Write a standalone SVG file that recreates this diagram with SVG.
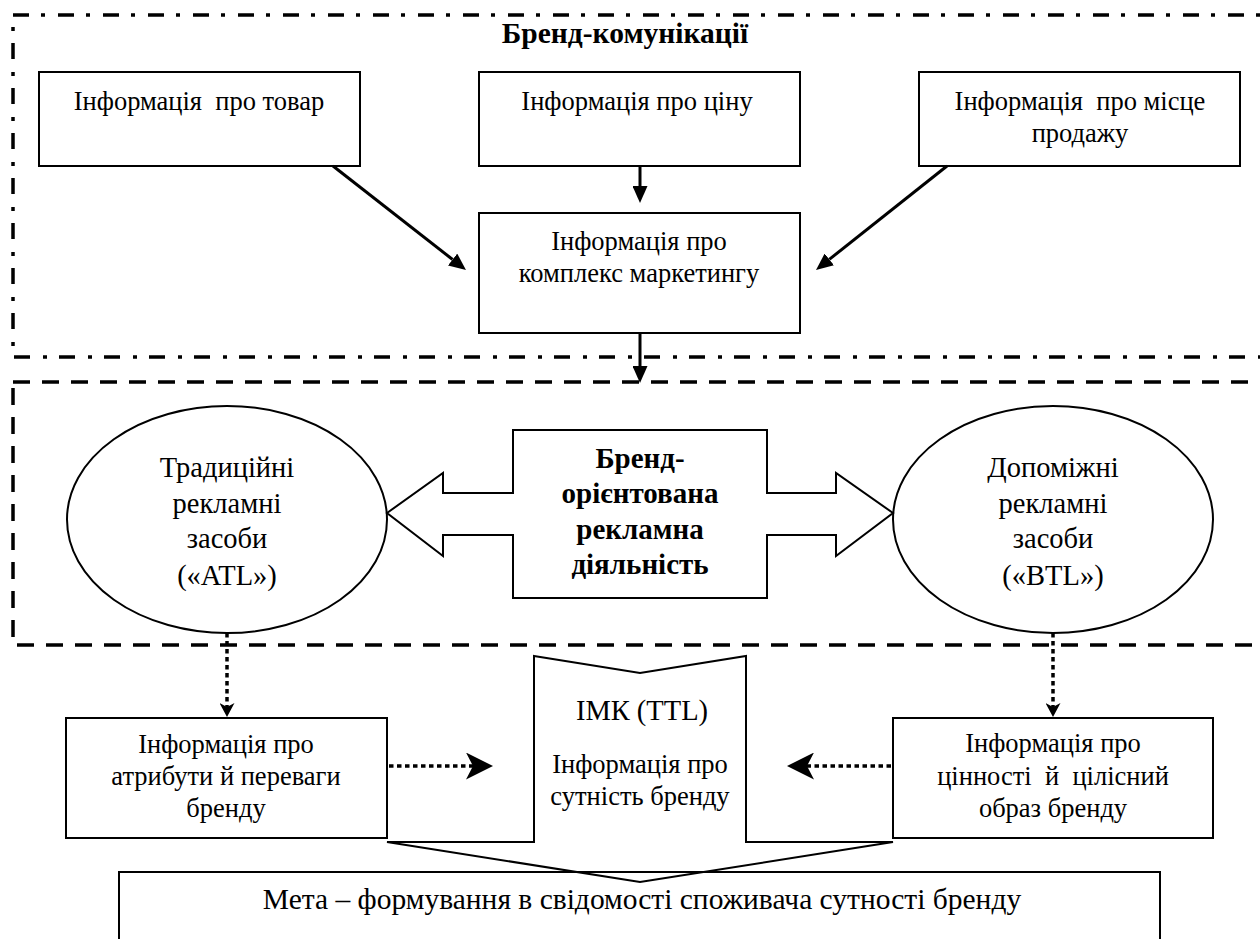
<svg xmlns="http://www.w3.org/2000/svg" width="1260" height="939" viewBox="0 0 1260 939">
<style>
  text { font-family: "Liberation Serif", "Times New Roman", "DejaVu Serif", serif; font-size: 26.5px; fill: #000; text-anchor: middle; white-space: pre; }
  .b { font-weight: bold; }
  .big { font-size: 28.5px; }
  .bb { font-size: 29px; }
  .xl { font-size: 29.5px; }
  .box { fill: #fff; stroke: #000; stroke-width: 2; }
  .open { fill: none; stroke: #000; stroke-width: 2; }
  .dashdot { fill: none; stroke: #000; stroke-width: 3.5; stroke-dasharray: 16 12 4 13; }
  .dashed { fill: none; stroke: #000; stroke-width: 3.5; stroke-dasharray: 17 12; }
  .solid { stroke: #000; stroke-width: 3; fill: none; }
  .dotted { stroke: #000; stroke-width: 3.5; stroke-dasharray: 4.5 3.5; fill: none; }
</style>
<defs>
  <marker id="tri" markerUnits="userSpaceOnUse" markerWidth="17" markerHeight="15" refX="0" refY="7.5" orient="auto">
    <path d="M0,0 L17,7.5 L0,15 z" fill="#000"/>
  </marker>
  <marker id="stl" markerUnits="userSpaceOnUse" markerWidth="27" markerHeight="27" refX="7" refY="13.5" orient="auto">
    <path d="M0,0 L27,13.5 L0,27 L7,13.5 z" fill="#000"/>
  </marker>
  <marker id="stls" markerUnits="userSpaceOnUse" markerWidth="14" markerHeight="15" refX="4" refY="7.5" orient="auto">
    <path d="M0,0 L14,7.5 L0,15 L4,7.5 z" fill="#000"/>
  </marker>
</defs>

<g id="frames">
  <rect id="brand-communications-frame" class="dashdot" x="13" y="15" width="1300" height="342"/>
  <rect id="advertising-frame" class="dashed" x="13" y="382" width="1300" height="263"/>
</g>

<g id="title">
  <text class="b xl" x="625" y="43">Бренд-комунікації</text>
</g>

<g id="node-product">
  <rect class="box" x="39" y="72" width="321" height="94"/>
  <text x="199" y="110">Інформація  про товар</text>
</g>
<g id="node-price">
  <rect class="box" x="479" y="72" width="321" height="94"/>
  <text x="637" y="110">Інформація про ціну</text>
</g>
<g id="node-place">
  <rect class="box" x="919" y="72" width="321" height="94"/>
  <text x="1080" y="110">Інформація  про місце</text>
  <text x="1080" y="142">продажу</text>
</g>
<g id="node-mix">
  <rect class="box" x="479" y="213" width="321" height="120"/>
  <text x="639" y="250">Інформація про</text>
  <text x="639" y="282">комплекс маркетингу</text>
</g>

<g id="node-atl">
  <ellipse class="box" cx="227" cy="519.5" rx="160" ry="113.5"/>
  <text class="big" x="227" y="477">Традиційні</text>
  <text class="big" x="227" y="513">рекламні</text>
  <text class="big" x="227" y="548">засоби</text>
  <text class="big" x="227" y="585">(«ATL»)</text>
</g>
<g id="node-btl">
  <ellipse class="box" cx="1053" cy="519.5" rx="160" ry="113.5"/>
  <text class="big" x="1053" y="477">Допоміжні</text>
  <text class="big" x="1053" y="513">рекламні</text>
  <text class="big" x="1053" y="548">засоби</text>
  <text class="big" x="1053" y="585">(«BTL»)</text>
</g>
<g id="node-brand-advertising">
  <polygon class="box" points="387,513 443,473 443,493 513,493 513,430 767,430 767,493 836,493 836,473 893,513 836,556 836,535 767,535 767,598 513,598 513,535 443,535 443,556"/>
  <text class="b bb" x="640" y="468">Бренд-</text>
  <text class="b bb" x="640" y="503">орієнтована</text>
  <text class="b bb" x="640" y="539">рекламна</text>
  <text class="b bb" x="640" y="574">діяльність</text>
</g>

<g id="node-imc">
  <polygon class="open" points="534,656 640,673 746,656 746,842 893,842 640,882 387,842 534,842"/>
  <text class="big" x="642" y="720">ІМК (TTL)</text>
  <text x="640" y="773">Інформація про</text>
  <text x="640" y="805">сутність бренду</text>
</g>
<g id="node-attributes">
  <rect class="box" x="66" y="718" width="321" height="120"/>
  <text x="226" y="753">Інформація про</text>
  <text x="226" y="785">атрибути й переваги</text>
  <text x="226" y="817">бренду</text>
</g>
<g id="node-values">
  <rect class="box" x="893" y="718" width="320" height="120"/>
  <text x="1053" y="752">Інформація про</text>
  <text x="1053" y="785">цінності  й  цілісний</text>
  <text x="1053" y="817">образ бренду</text>
</g>
<g id="node-goal">
  <rect class="open" x="119" y="872" width="1041" height="100"/>
  <text class="xl" x="642" y="909">Мета – формування в свідомості споживача сутності бренду</text>
</g>

<g id="connectors">
  <line class="solid" x1="640" y1="166" x2="640" y2="186" marker-end="url(#tri)"/>
  <line class="solid" x1="333" y1="166" x2="452.6" y2="259.5" marker-end="url(#tri)"/>
  <line class="solid" x1="947" y1="166" x2="829.3" y2="259.4" marker-end="url(#tri)"/>
  <line class="solid" x1="640" y1="333" x2="640" y2="366" marker-end="url(#tri)"/>
  <line class="dotted" x1="227" y1="633" x2="227" y2="707" marker-end="url(#stls)"/>
  <line class="dotted" x1="1053" y1="633" x2="1053" y2="707" marker-end="url(#stls)"/>
  <line class="dotted" x1="389" y1="766" x2="473" y2="766" marker-end="url(#stl)"/>
  <line class="dotted" x1="891" y1="766" x2="807" y2="766" marker-end="url(#stl)"/>
</g>
</svg>
